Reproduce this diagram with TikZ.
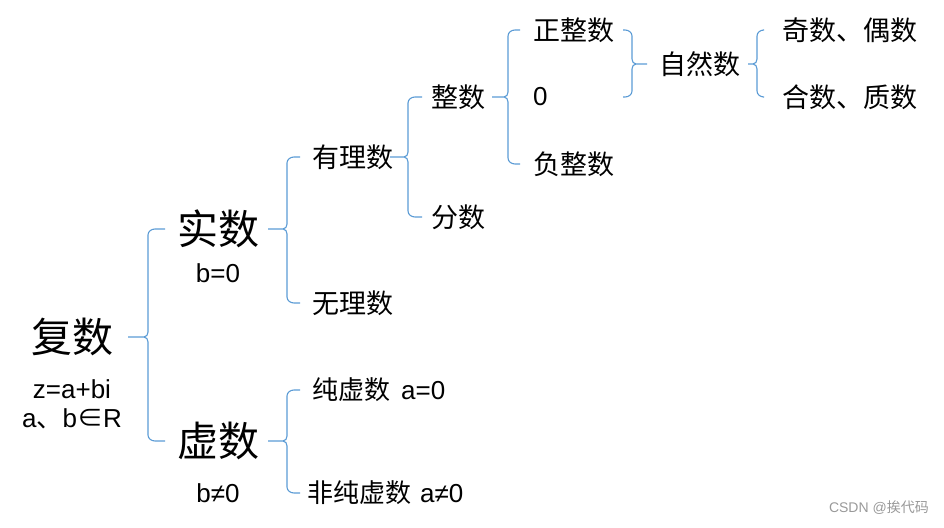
\documentclass[tikz,border=0pt]{standalone}
\usepackage{fontspec}
\setmainfont{Liberation Sans}
\newfontfamily\cjk{Noto Sans CJK SC}
\usetikzlibrary{calc}

\definecolor{braceBlue}{RGB}{91,155,213}

% left brace: parent, tip x, stem x, hook x, upper child, lower child
\newcommand{\lbrc}[6]{%
  \draw[brc] let \p1=(#1.east), \p2=(#5.west), \p3=(#6.west) in
    (#2pt,\y1) -- (#3pt-4pt,\y1)
    to[out=0,in=-90] (#3pt,\y1+5pt) -- (#3pt,\y2-6pt)
    to[out=90,in=180] (#3pt+7pt,\y2) -- (#4pt,\y2)
    (#3pt-4pt,\y1) to[out=0,in=90] (#3pt,\y1-5pt) -- (#3pt,\y3+6pt)
    to[out=-90,in=180] (#3pt+7pt,\y3) -- (#4pt,\y3);}

% right brace: upper child, lower child, hook x, stem x, tip x, target
\newcommand{\rbrc}[6]{%
  \draw[brc] let \p1=(#6.west), \p2=(#1.east), \p3=(#2.east) in
    (#5pt,\y1) -- (#4pt+4pt,\y1)
    to[out=180,in=-90] (#4pt,\y1+5pt) -- (#4pt,\y2-6pt)
    to[out=90,in=0] (#4pt-7pt,\y2) -- (#3pt,\y2)
    (#4pt+4pt,\y1) to[out=180,in=90] (#4pt,\y1-5pt) -- (#4pt,\y3+6pt)
    to[out=-90,in=0] (#4pt-7pt,\y3) -- (#3pt,\y3);}

\begin{document}
\begin{tikzpicture}[
    x=1pt, y=1pt,
    every node/.style={inner sep=0pt, text=black},
    big/.style={font=\cjk\fontsize{41}{45}\selectfont},
    term/.style={font=\cjk\fontsize{27}{30}\selectfont},
    cond/.style={font=\fontsize{26}{30}\selectfont},
    wmark/.style={font=\fontsize{14}{16}\selectfont, text=black!40},
    brc/.style={draw=braceBlue, line width=1.1pt}
  ]
    \useasboundingbox (0,0) rectangle (944,527);

    % level 0
    \node[big] (fushu) at (72,190) {复数};
    \node[cond] (fushuEq) at (72,138) {z=a+bi};
    \node[cond] (fushuSet) at (72,108) {a{\cjk 、}b{\cjk ∈}R};

    % level 1
    \node[big] (shishu) at (218,298) {实数};
    \node[cond] (shishuCond) at (218,254) {b=0};
    \node[big] (xushu) at (218,86) {虚数};
    \node[cond] (xushuCond) at (218,34) {b≠0};

    % real numbers
    \node[term, anchor=west] (youli) at (312,370) {有理数};
    \node[term, anchor=west] (wuli) at (312,224) {无理数};
    \node[term] (zhengshu) at (458,430) {整数};
    \node[term] (fenshu) at (458,310) {分数};
    \node[term, anchor=west] (zheng) at (533,497) {正整数};
    \node[cond, anchor=west] (ling) at (533,430) {0};
    \node[term, anchor=west] (fu) at (533,363) {负整数};
    \node[term] (ziran) at (700,463) {自然数};
    \node[term, anchor=west] (jiou) at (782,497) {奇数、偶数};
    \node[term, anchor=west] (hezhi) at (782,430) {合数、质数};

    % imaginary numbers
    \node[cond, anchor=west] (chunxu) at (312,137) {{\cjk 纯虚数}\hspace{11pt}a=0};
    \node[cond, anchor=west] (feichunxu) at (307,34) {{\cjk 非纯虚数}\hspace{9pt}a≠0};

    \node[wmark, anchor=east] (csdn) at (929,19) {CSDN @{\cjk 挨代码}};

    % braces
    \lbrc{fushu}{128}{148}{165}{shishu}{xushu}
    \lbrc{shishu}{268}{287}{300}{youli}{wuli}
    \lbrc{xushu}{268}{287}{300}{chunxu}{feichunxu}
    \lbrc{youli}{390}{408}{422}{zhengshu}{fenshu}
    \lbrc{zhengshu}{492}{508}{520}{zheng}{fu}
    \rbrc{zheng}{ling}{623}{632}{647}{ziran}
    \lbrc{ziran}{748}{757}{763}{jiou}{hezhi}
  \end{tikzpicture}
\end{document}
